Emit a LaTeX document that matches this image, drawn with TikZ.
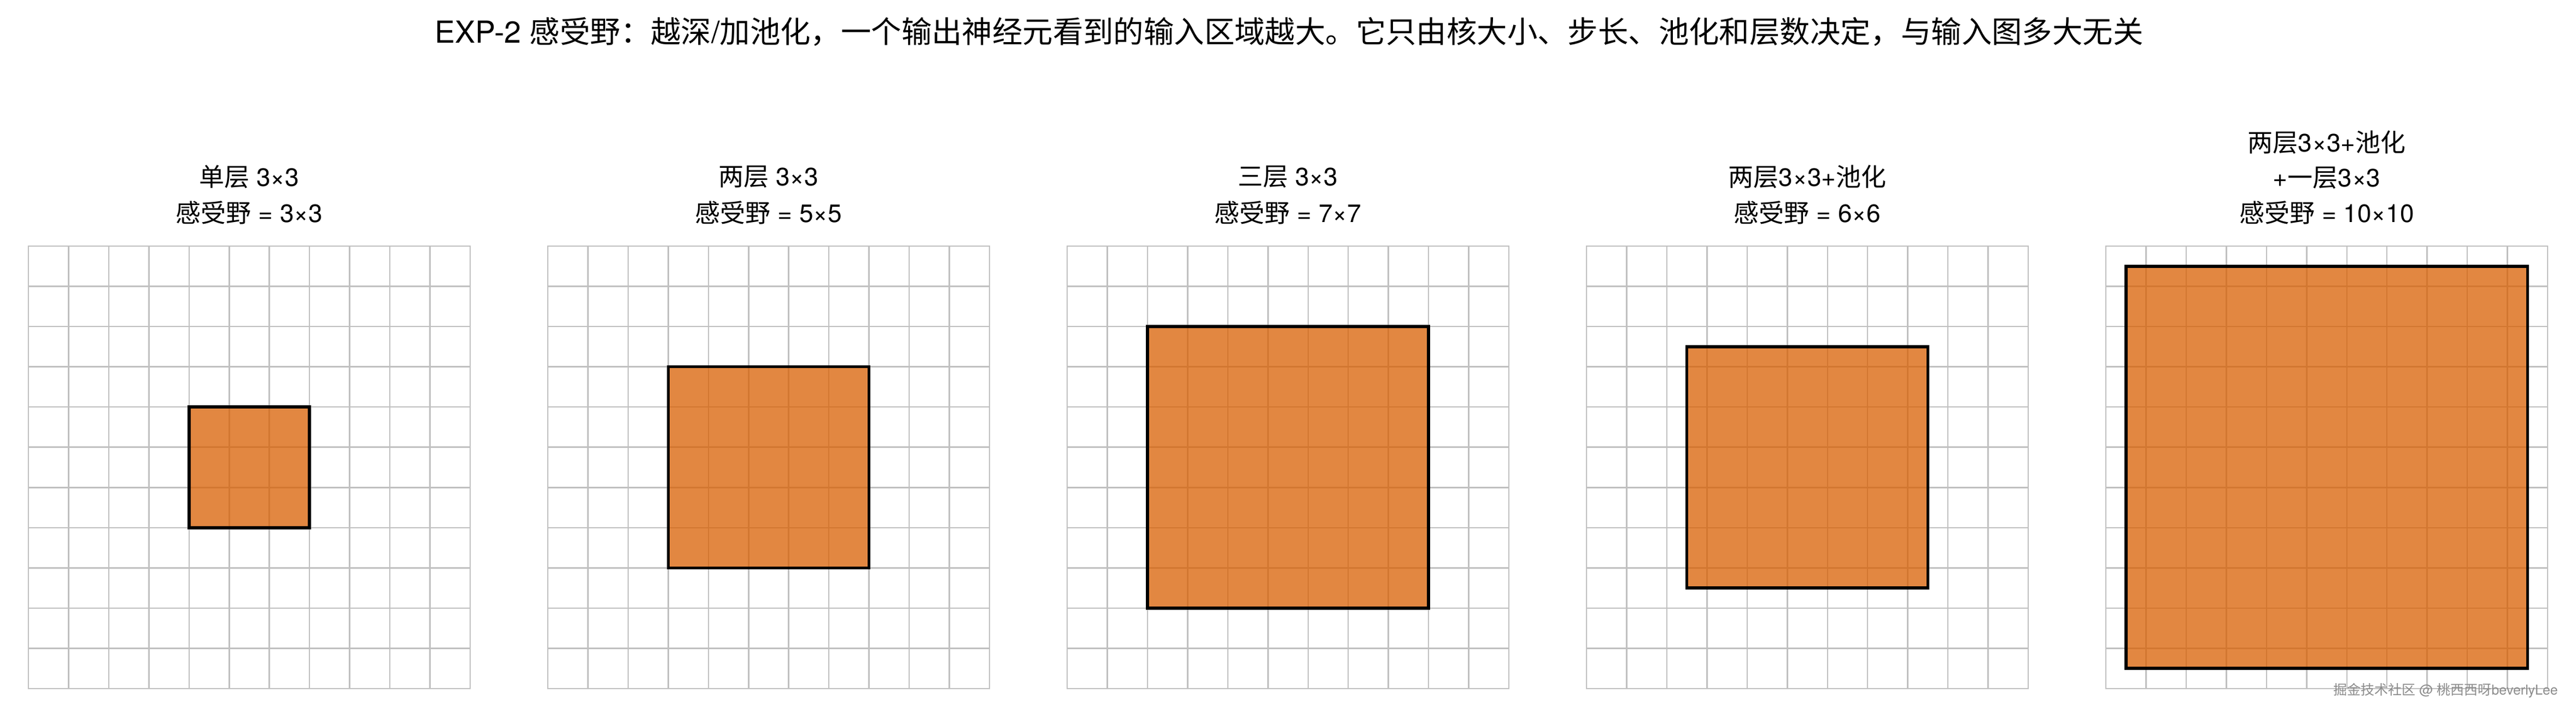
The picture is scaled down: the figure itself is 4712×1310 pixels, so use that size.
\documentclass[tikz,border=0pt]{standalone}
\usepackage{fontspec}
\setmainfont{Noto Sans CJK SC}
\newfontfamily\lat{TeX Gyre Heros}
\definecolor{gridgray}{RGB}{192,192,192}
\definecolor{rfo}{HTML}{D95F02}
\begin{document}
\begin{tikzpicture}[x=1pt,y=-1pt,
  gridline/.style={draw=gridgray,line width=2.5pt,line cap=rect},
  rf/.style={fill=rfo,fill opacity=0.75,draw=black,draw opacity=1,line width=5.5pt},
  lab/.style={font=\fontsize{46}{56}\selectfont,inner sep=0pt,anchor=center},
  ttl/.style={font=\fontsize{55.4}{66}\selectfont,inner sep=0pt,anchor=center},
  wm/.style={font=\fontsize{25}{30}\selectfont,text=black!45,inner sep=0pt,anchor=east}]
\useasboundingbox[fill=white] (0,0) rectangle (4712,1310);

% title
\node[ttl] (title) at (2358,58) {{\lat EXP-2 }感受野：越深{\lat /}加池化，一个输出神经元看到的输入区域越大。它只由核大小、步长、池化和层数决定，与输入图多大无关};

% grids
\foreach \p in {0,...,4}{
  \pgfmathsetmacro\L{52+950*\p}
  \foreach \k in {0,...,11}{
    \draw[gridline] (\L+\k*73.4545,450) -- (\L+\k*73.4545,1259);
    \draw[gridline] (\L,450+\k*73.545) -- (\L+808,450+\k*73.545);
  }
}

% receptive fields
\def\cx{73.4545}
\def\cy{73.545}
\draw[rf] (52+4*\cx,450+4*\cy) rectangle (52+7*\cx,450+7*\cy);
\draw[rf] (1002+3*\cx,450+3*\cy) rectangle (1002+8*\cx,450+8*\cy);
\draw[rf] (1952+2*\cx,450+2*\cy) rectangle (1952+9*\cx,450+9*\cy);
\draw[rf] (2902+2.5*\cx,450+2.5*\cy) rectangle (2902+8.5*\cx,450+8.5*\cy);
\draw[rf] (3852+0.5*\cx,450+0.5*\cy) rectangle (3852+10.5*\cx,450+10.5*\cy);

% labels
\node[lab] (l1a) at (456,323) {单层{\lat\ 3×3}};
\node[lab] (l1b) at (456,389) {感受野{\lat\ = 3×3}};
\node[lab] (l2a) at (1406,323) {两层{\lat\ 3×3}};
\node[lab] (l2b) at (1406,389) {感受野{\lat\ = 5×5}};
\node[lab] (l3a) at (2356,323) {三层{\lat\ 3×3}};
\node[lab] (l3b) at (2356,389) {感受野{\lat\ = 7×7}};
\node[lab] (l4a) at (3306,323) {两层{\lat 3×3+}池化};
\node[lab] (l4b) at (3306,389) {感受野{\lat\ = 6×6}};
\node[lab] (l5a) at (4256,260) {两层{\lat 3×3+}池化};
\node[lab] (l5b) at (4256,325) {{\lat +}一层{\lat 3×3}};
\node[lab] (l5c) at (4256,389) {感受野{\lat\ = 10×10}};

% watermark
\node[wm] (wmark) at (4679,1263) {掘金技术社区{\lat\ @ }桃西西呀{\lat beverlyLee}};
\end{tikzpicture}
\end{document}
